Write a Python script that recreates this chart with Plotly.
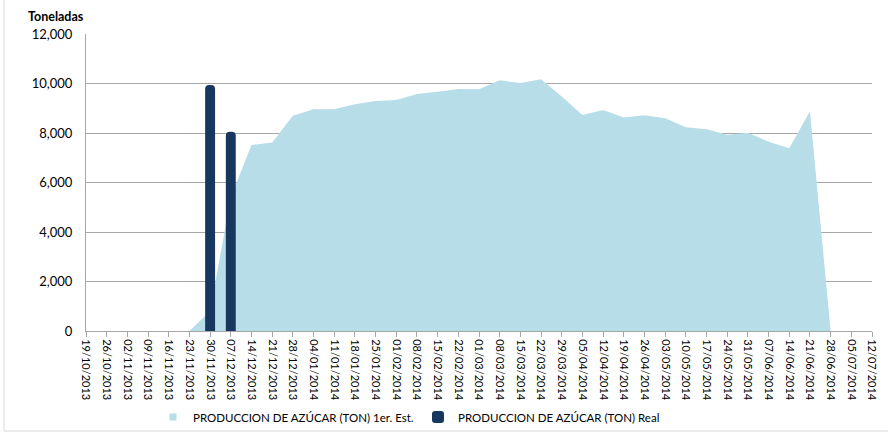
import plotly.graph_objects as go

# Weekly dates shown on the category axis
semanas = [
    "19/10/2013", "26/10/2013", "02/11/2013", "09/11/2013", "16/11/2013",
    "23/11/2013", "30/11/2013", "07/12/2013", "14/12/2013", "21/12/2013",
    "28/12/2013", "04/01/2014", "11/01/2014", "18/01/2014", "25/01/2014",
    "01/02/2014", "08/02/2014", "15/02/2014", "22/02/2014", "01/03/2014",
    "08/03/2014", "15/03/2014", "22/03/2014", "29/03/2014", "05/04/2014",
    "12/04/2014", "19/04/2014", "26/04/2014", "03/05/2014", "10/05/2014",
    "17/05/2014", "24/05/2014", "31/05/2014", "07/06/2014", "14/06/2014",
    "21/06/2014", "28/06/2014", "05/07/2014", "12/07/2014",
]

# Sugar production, first estimate (tons per week)
estimado = [
    None, None, None, None, None,
    0, 800, 5400, 7515, 7620,
    8700, 8960, 8960, 9160, 9290,
    9330, 9575, 9670, 9780, 9765,
    10130, 10020, 10170, 9470, 8730,
    8930, 8630, 8715, 8595, 8230,
    8155, 7925, 8015, 7650, 7380,
    8875, 0, None, None,
]

# Sugar production, actual (tons per week)
real = [
    None, None, None, None, None,
    None, 9940, 8050, None, None,
    None, None, None, None, None,
    None, None, None, None, None,
    None, None, None, None, None,
    None, None, None, None, None,
    None, None, None, None, None,
    None, None, None, None,
]

y_ticks = [0, 2000, 4000, 6000, 8000, 10000, 12000]

FONT = "Lato, 'Liberation Sans', Arial, sans-serif"
GRID = "#a6a6a6"
AREA = "#b7dde8"
NAVY = "#17375e"
NAME_EST = "PRODUCCION DE AZÚCAR (TON) 1er. Est."
NAME_REAL = "PRODUCCION DE AZÚCAR (TON) Real"
idx = list(range(len(semanas)))

fig = go.Figure()

# Estimated production as a filled area
fig.add_trace(go.Scatter(
    x=idx, y=estimado, mode="lines", fill="tozeroy",
    line=dict(width=0, color=AREA), fillcolor=AREA,
    name=NAME_EST, showlegend=False, connectgaps=False,
))
# Legend key for the area: a small square swatch
fig.add_trace(go.Scatter(
    x=[None], y=[None], mode="markers", name=NAME_EST,
    marker=dict(symbol="square", size=7, color=AREA),
))

# Actual production bars, on an overlaid pair of axes so they sit above the area
fig.add_trace(go.Bar(
    x=idx, y=real, width=0.48, xaxis="x2", yaxis="y2",
    marker=dict(color=NAVY, line=dict(width=0), cornerradius=5),
    name=NAME_REAL,
))

x_range = [0, len(semanas) - 1]
y_range = [0, 12000]

fig.update_layout(
    width=888, height=433,
    margin=dict(l=86, r=16, t=34, b=102, autoexpand=False),
    paper_bgcolor="white", plot_bgcolor="white",
    font=dict(family=FONT, size=11, color="#000000"),
    showlegend=True,
    legend=dict(
        orientation="h", xref="container", yref="container",
        x=153 / 888, xanchor="left", y=(433 - 417) / 433, yanchor="middle",
        font=dict(family=FONT, size=11.5, color="#000000"),
        itemwidth=30, entrywidth=220, entrywidthmode="pixels",
        tracegroupgap=0, bgcolor="rgba(0,0,0,0)",
    ),
    xaxis=dict(
        range=x_range, tickmode="array", tickvals=idx, ticktext=semanas,
        tickangle=90, ticks="outside", ticklen=5, tickcolor=GRID,
        showline=True, linecolor=GRID, linewidth=1, showgrid=False,
        zeroline=False, automargin=False,
        tickfont=dict(family=FONT, size=11, color="#000000"),
    ),
    yaxis=dict(
        range=y_range, tickmode="array", tickvals=y_ticks, tickformat=",",
        showline=True, linecolor=GRID, linewidth=1,
        showgrid=True, gridcolor=GRID, gridwidth=1, zeroline=False,
        ticks="", ticklabelstandoff=10, automargin=False,
        tickfont=dict(family=FONT, size=13, color="#000000"),
    ),
    xaxis2=dict(range=x_range, overlaying="x", visible=False),
    yaxis2=dict(range=y_range, overlaying="y", visible=False),
    annotations=[dict(
        text="<b>Toneladas</b>", xref="paper", yref="paper",
        x=(26 - 86) / 786, y=(331 - 17) / 297, xanchor="left", yanchor="middle",
        showarrow=False, font=dict(family=FONT, size=12.5, color="#000000"),
    )],
    shapes=[dict(
        type="rect", xref="paper", yref="paper",
        x0=(4 - 86) / 786, x1=(893 - 86) / 786,
        y0=(331 - 431) / 297, y1=(331 + 5) / 297,
        line=dict(color="#d9d9d9", width=1), fillcolor="rgba(0,0,0,0)",
        layer="below",
    )],
)

fig.write_html("out.html")
